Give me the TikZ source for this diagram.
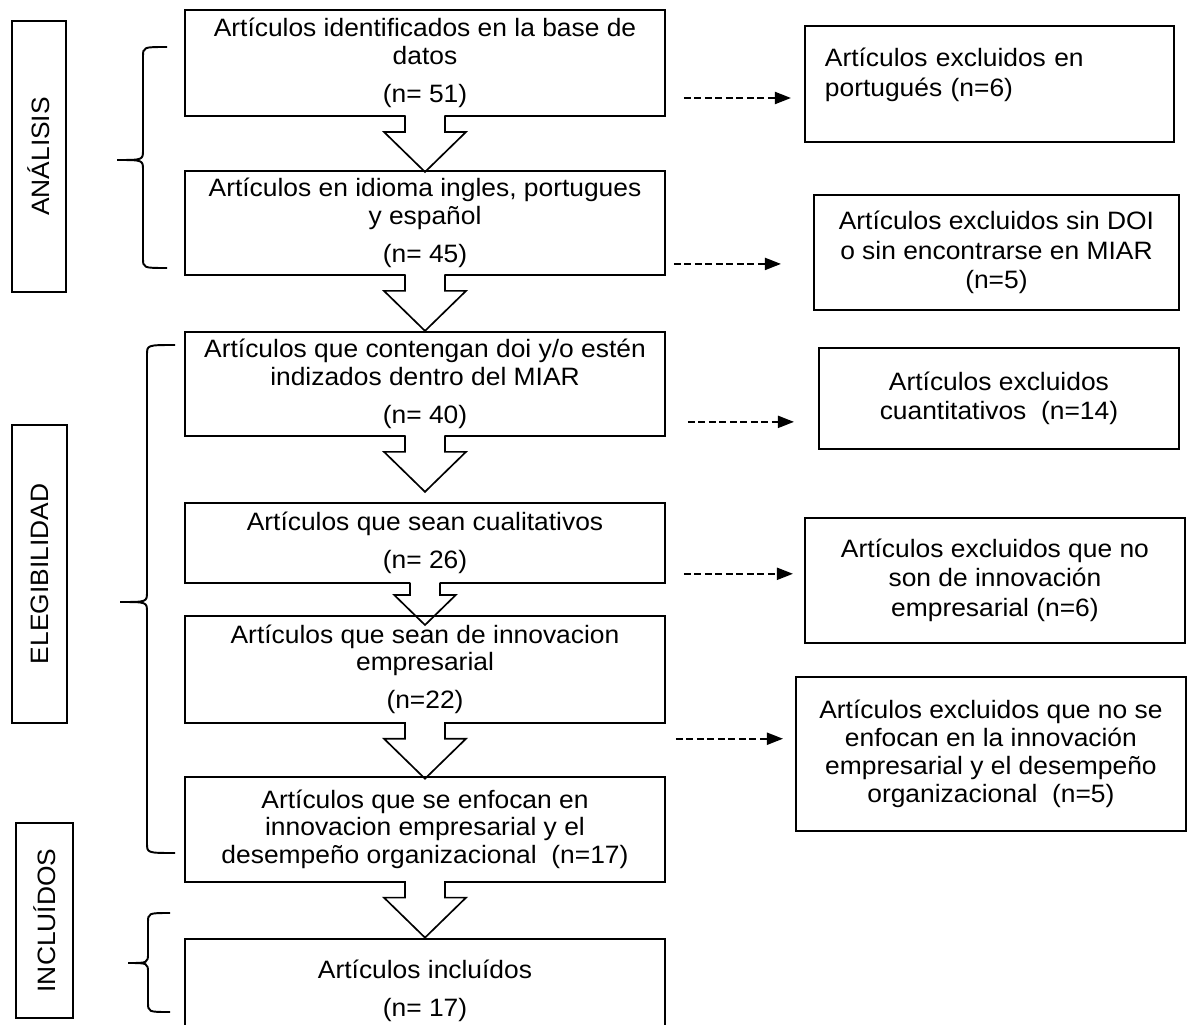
\documentclass[tikz,border=0pt]{standalone}
\usepackage{fontspec}
\setmainfont{Liberation Sans}[FakeStretch=1.05]
\usepackage{tikz}
\usetikzlibrary{arrows.meta, positioning}
\tikzset{
    mainbox/.style={rectangle, draw, line width=1.1pt, align=center, minimum width=9.6cm, inner sep=0pt, font=\fontsize{14.3}{15.65}\selectfont},
    sidebox/.style={rectangle, draw, line width=1.1pt, align=center, inner sep=0pt, font=\fontsize{14.3}{17}\selectfont},
    phase/.style={rectangle, draw, line width=1.1pt, rotate=90, inner sep=0pt, font=\fontsize{14.3}{15.65}\selectfont},
    dasharrow/.style={line width=1.1pt, dash pattern=on 0.14cm off 0.07cm, -{Triangle[length=0.32cm, width=0.24cm]}},
    hollow/.style={line width=0.95pt},
    bracket/.style={line width=1.1pt}
}
% big white arrow hanging under a box
\newcommand{\hollowarrow}[2][1]{%
  \begin{scope}[shift={(#2.south)}, scale=#1]
    \fill[white] (-0.4,0.08) rectangle (0.4,-0.3);
    \draw[hollow] (-0.4,0.03) -- (-0.4,-0.3) -- (-0.82,-0.3) -- (0,-1.1) -- (0.82,-0.3) -- (0.4,-0.3) -- (0.4,0.03);
  \end{scope}}

\begin{document}
\begin{tikzpicture}

    \useasboundingbox (0,0) rectangle (23.9,-20.5);

    % Main column
    \node[mainbox, minimum height=2.12cm] (B1) at (8.5,-1.26) {Artículos identificados en la base de\\datos\\[0.21cm](n= 51)};
    \node[mainbox, minimum height=2.08cm, below=1.06cm of B1] (B2) {Artículos en idioma ingles, portugues\\y español\\[0.21cm](n= 45)};
    \node[mainbox, minimum height=2.08cm, below=1.1cm of B2] (B3) {Artículos que contengan doi y/o estén\\indizados dentro del MIAR\\[0.21cm](n= 40)};
    \node[mainbox, minimum height=1.6cm, below=1.3cm of B3] (B4) {Artículos que sean cualitativos\\[0.21cm](n= 26)};
    \node[mainbox, minimum height=2.14cm, below=0.62cm of B4] (B5) {Artículos que sean de innovacion\\empresarial\\[0.21cm](n=22)};
    \node[mainbox, minimum height=2.1cm, below=1.04cm of B5] (B6) {Artículos que se enfocan en\\innovacion empresarial y el\\desempeño organizacional\ \ (n=17)};
    \node[mainbox, minimum height=2.1cm, below=1.1cm of B6] (B7) {Artículos incluídos\\[0.21cm](n= 17)};

    % Excluded boxes
    \node[sidebox, align=left, text width=6.58cm, inner xsep=0.4cm, minimum height=2.32cm, right=2.76cm of B1, yshift=-0.42cm] (R1) {\makebox[5.48cm][s]{Artículos excluidos en}\\portugués (n=6)\rule[-0.46cm]{0pt}{0pt}};
    \node[sidebox, minimum width=7.3cm, minimum height=2.3cm, right=2.94cm of B2, yshift=-0.59cm] (R2) {Artículos excluidos sin DOI\\o sin encontrarse en MIAR\\(n=5)};
    \node[sidebox, minimum width=7.2cm, minimum height=2.02cm, right=3.04cm of B3, yshift=-0.29cm] (R3) {Artículos excluidos\\cuantitativos\ \ (n=14)};
    \node[sidebox, minimum width=7.6cm, minimum height=2.5cm, right=2.76cm of B4, yshift=-0.75cm] (R4) {Artículos excluidos que no\\son de innovación\\empresarial (n=6)};
    \node[sidebox, minimum width=7.8cm, minimum height=3.08cm, font=\fontsize{14.3}{15.9}\selectfont, right=2.58cm of B5, yshift=-1.69cm] (R5) {Artículos excluidos que no se\\enfocan en la innovación\\empresarial y el desempeño\\organizacional\ \ (n=5)};

    % Phase labels
    \node[phase, minimum width=5.42cm, minimum height=1.08cm] (analisis) at (0.78,-3.13) {ANÁLISIS};
    \node[phase, minimum width=5.96cm, minimum height=1.1cm] (elegib) at (0.79,-11.48) {ELEGIBILIDAD};
    \node[phase, minimum width=3.9cm, minimum height=1.14cm] (incluidos) at (0.89,-18.41) {INCLUÍDOS};

    % Braces
    \draw[bracket] (3.34,-0.94) .. controls (2.86,-0.94) .. (2.86,-1.14) -- (2.86,-3.0) .. controls (2.86,-3.2) .. (2.34,-3.2)
        .. controls (2.86,-3.2) .. (2.86,-3.4) -- (2.86,-5.16) .. controls (2.86,-5.36) .. (3.34,-5.36);
    \draw[bracket] (3.5,-6.9) .. controls (2.94,-6.9) .. (2.94,-7.1) -- (2.94,-11.84) .. controls (2.94,-12.04) .. (2.4,-12.04)
        .. controls (2.94,-12.04) .. (2.94,-12.24) -- (2.94,-16.86) .. controls (2.94,-17.06) .. (3.5,-17.06);
    \draw[bracket] (3.4,-18.26) .. controls (2.96,-18.26) .. (2.96,-18.46) -- (2.96,-19.06) .. controls (2.96,-19.26) .. (2.56,-19.26)
        .. controls (2.96,-19.26) .. (2.96,-19.46) -- (2.96,-20.04) .. controls (2.96,-20.24) .. (3.4,-20.24);

    % Arrows down the column
    \hollowarrow{B1}
    \hollowarrow{B2}
    \hollowarrow{B3}
    \hollowarrow[0.75]{B4}
    \hollowarrow{B5}
    \hollowarrow{B6}

    % Arrows to the excluded boxes
    \draw[dasharrow, shorten <=0.36cm, shorten >=0.26cm] ([yshift=-0.7cm]B1.east) -- ([yshift=-0.7cm]B1.east -| R1.west);
    \draw[dasharrow, shorten <=0.16cm, shorten >=0.64cm] ([yshift=-0.82cm]B2.east) -- ([yshift=-0.82cm]B2.east -| R2.west);
    \draw[dasharrow, shorten <=0.44cm, shorten >=0.48cm] ([yshift=-0.76cm]B3.east) -- ([yshift=-0.76cm]B3.east -| R3.west);
    \draw[dasharrow, shorten <=0.36cm, shorten >=0.22cm] ([yshift=-0.62cm]B4.east) -- ([yshift=-0.62cm]B4.east -| R4.west);
    \draw[dasharrow, shorten <=0.2cm, shorten >=0.24cm] ([yshift=-1.39cm]B5.east) -- ([yshift=-1.39cm]B5.east -| R5.west);

\end{tikzpicture}
\end{document}
